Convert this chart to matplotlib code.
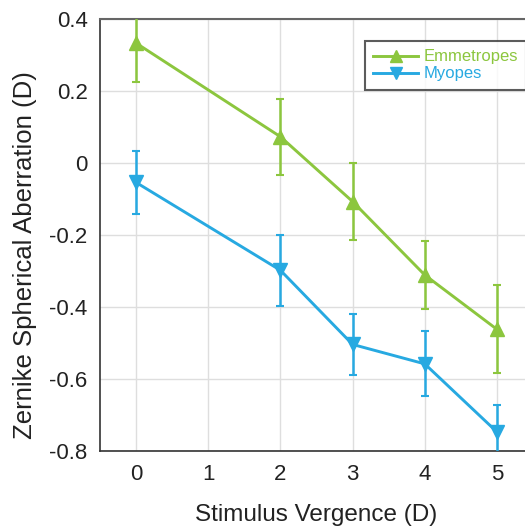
import numpy as np
import matplotlib
matplotlib.use("Agg")
import matplotlib.pyplot as plt
from matplotlib.lines import Line2D

plt.rcParams['font.family'] = ['Liberation Sans', 'DejaVu Sans']

# stimulus vergence (D)
vergence = [0, 2, 3, 4, 5]

# Zernike spherical aberration (D), mean and error
emm_mean = [0.333, 0.073, -0.107, -0.311, -0.462]
emm_err = [0.107, 0.105, 0.108, 0.094, 0.122]
myo_mean = [-0.054, -0.298, -0.504, -0.558, -0.747]
myo_err = [0.088, 0.098, 0.085, 0.090, 0.074]

green = '#8cc63e'
blue = '#27a9e1'

fig = plt.figure(figsize=(5.25, 5.29), dpi=100)
# right edge of the axes runs past the figure, as in the cropped original
ax = fig.add_axes([100 / 525, 1 - 451 / 529, 433 / 525, 432 / 529])

ax.errorbar(vergence, emm_mean, yerr=emm_err, color=green, marker='^',
            markersize=9.5, linewidth=2.1, elinewidth=1.8, capsize=3, capthick=1.5,
            zorder=3)
ax.errorbar(vergence, myo_mean, yerr=myo_err, color=blue, marker='v',
            markersize=9.5, linewidth=2.1, elinewidth=1.8, capsize=3, capthick=1.5,
            zorder=3)

ax.set_xlim(-0.5, 5.5)
ax.set_ylim(-0.8, 0.4)
ax.set_xticks([0, 1, 2, 3, 4, 5])
ax.set_yticks([-0.8, -0.6, -0.4, -0.2, 0, 0.2, 0.4])
ax.set_yticklabels(['-0.8', '-0.6', '-0.4', '-0.2', '0', '0.2', '0.4'])
ax.tick_params(length=0, labelsize=16, colors='#222222')
ax.tick_params(axis='y', pad=9)
ax.tick_params(axis='x', pad=9)
ax.grid(True, color='#dedede', linewidth=1)
ax.set_axisbelow(True)

for side in ['left', 'bottom']:
    ax.spines[side].set_color('#333333')
    ax.spines[side].set_linewidth(1.2)
ax.spines['top'].set_color('#666666')
ax.spines['top'].set_linewidth(1.5)
ax.spines['right'].set_visible(False)

ax.set_xlabel('Stimulus Vergence (D)', fontsize=17.5, color='#222222')
ax.set_ylabel('Zernike Spherical Aberration (D)', fontsize=18.5, color='#222222')
ax.xaxis.set_label_coords(0.5, -0.122)
ax.yaxis.set_label_coords(-0.146, 0.454)

handles = [Line2D([], [], color=green, marker='^', markersize=9, linewidth=2.1),
           Line2D([], [], color=blue, marker='v', markersize=9, linewidth=2.1)]
leg = ax.legend(handles, ['Emmetropes', 'Myopes'], loc='upper left',
                bbox_to_anchor=(265 / 433, 1 - 22 / 432),
                fontsize=12, frameon=True, fancybox=False, handlelength=2.7,
                handletextpad=0.3, borderpad=0.5, labelspacing=0.12,
                borderaxespad=0)
leg.get_frame().set_edgecolor('#333333')
leg.get_frame().set_linewidth(1.5)
for txt, c in zip(leg.get_texts(), [green, blue]):
    txt.set_color(c)

fig.savefig('out.png', dpi=100)
